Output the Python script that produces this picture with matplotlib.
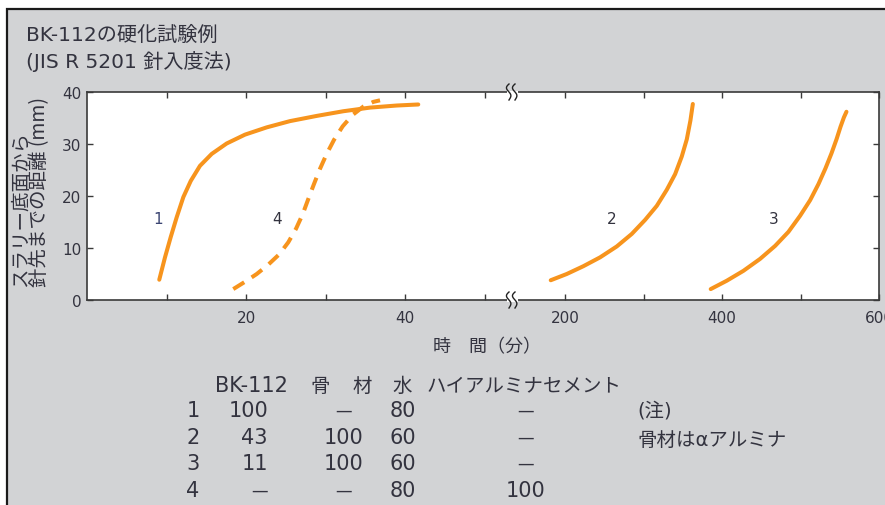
import numpy as np
import matplotlib
matplotlib.use("Agg")
import matplotlib.pyplot as plt
from matplotlib.patches import Rectangle
from matplotlib.lines import Line2D

plt.rcParams['font.family'] = ['DejaVu Sans', 'Noto Sans CJK JP']

# curve data: time (min) vs distance from slurry bottom to needle tip (mm)
c1_t = [9.09, 9.81, 10.53, 11.28, 12.12, 13.05, 14.21, 15.69, 17.57, 19.87, 22.61, 25.53,
        28.89, 32.24, 35.60, 38.95, 41.67]
c1_d = [3.9, 8.2, 12.1, 15.9, 19.8, 22.9, 25.8, 28.1, 30.1, 31.8, 33.2, 34.4,
        35.4, 36.3, 37.0, 37.4, 37.6]
c4_t = [18.40, 19.87, 21.35, 22.80, 24.19, 25.32, 26.29, 27.13, 27.83, 28.55, 29.30, 30.15,
        31.07, 32.16, 33.42, 34.76, 36.01, 36.86]
c4_d = [2.1, 3.5, 5.0, 6.8, 8.8, 11.1, 13.7, 16.5, 19.4, 22.3, 25.2, 28.1,
        30.8, 33.4, 35.6, 37.2, 38.1, 38.4]
c2_t = [181.4, 201.8, 223.0, 244.3, 265.6, 284.7, 301.7, 316.6, 329.4, 340.0, 348.5, 354.9, 359.5, 362.6]
c2_d = [3.8, 5.0, 6.5, 8.2, 10.3, 12.7, 15.4, 18.1, 21.2, 24.2, 27.6, 30.9, 34.5, 37.7]
c3_t = [385.4, 405.8, 427.0, 448.3, 467.5, 484.5, 499.4, 512.2, 522.8, 531.7, 539.4, 545.8,
        550.9, 555.2, 558.5]
c3_d = [2.1, 3.7, 5.6, 7.9, 10.4, 13.1, 16.2, 19.2, 22.3, 25.3, 28.2, 30.9, 33.3, 35.1, 36.2]
curve_labels = ["1", "4", "2", "3"]
label_t = [8.9, 23.9, 259.6, 466.2]
label_d = [15.6, 15.6, 15.6, 15.6]

# table
tbl_header = ["BK-112", "骨", "材", "水", "ハイアルミナセメント"]
tbl_no = ["1", "2", "3", "4"]
tbl_bk = ["100", "43", "11", "—"]
tbl_agg = ["—", "100", "100", "—"]
tbl_water = ["80", "60", "60", "80"]
tbl_hac = ["—", "—", "—", "100"]

W, H = 885, 506
ORANGE = '#f7941d'
TXT = '#33333f'
SPINE = '#3a3a3a'

fig = plt.figure(figsize=(W / 100, H / 100), dpi=100)
fig.patch.set_facecolor('white')


def fx(px):
    return px / W


def fy(py):
    return 1 - py / H


fig.patches.append(Rectangle((fx(7), fy(H + 20)), 1.2, fy(10) - fy(H + 20),
                             transform=fig.transFigure, facecolor='#d2d3d5',
                             edgecolor='#1a1a1a', linewidth=1.6, zorder=-10))

x0, xb, x1 = 87, 512, 879
ytop, ybot = 93, 301
ax1 = fig.add_axes([fx(x0), fy(ybot), fx(xb) - fx(x0), fy(ytop) - fy(ybot)])
ax2 = fig.add_axes([fx(xb), fy(ybot), fx(x1) - fx(xb), fy(ytop) - fy(ybot)], sharey=ax1)

ax1.set_xlim(0, (xb - x0) / 7.95)
ax2.set_xlim(132, 600)
ax1.set_ylim(0, 40)

for ax in (ax1, ax2):
    for s in ax.spines.values():
        s.set_color(SPINE)
        s.set_linewidth(1.2)
    ax.tick_params(which='both', direction='in', length=4.5, width=1.0, color=SPINE,
                   top=True, labelsize=11, labelcolor=TXT, pad=7)
ax1.spines['right'].set_visible(False)
ax2.spines['left'].set_visible(False)

ax1.set_xticks([20, 40])
ax1.set_xticks([10, 30, 50], minor=True)
ax1.set_yticks([0, 10, 20, 30, 40])
ax1.tick_params(axis='y', pad=4)
ax2.set_xticks([200, 400, 600])
ax2.set_xticks([300, 500], minor=True)
ax2.tick_params(axis='y', left=False, right=True, labelleft=False)

lw = 2.9
ax1.plot(c1_t, c1_d, color=ORANGE, lw=lw, solid_capstyle='round', solid_joinstyle='round')
ax1.plot(c4_t, c4_d, color=ORANGE, lw=lw, linestyle=(0, (3.2, 2.2)))
ax2.plot(c2_t, c2_d, color=ORANGE, lw=lw, solid_capstyle='round', solid_joinstyle='round')
ax2.plot(c3_t, c3_d, color=ORANGE, lw=lw, solid_capstyle='round', solid_joinstyle='round')

for i, lab in enumerate(curve_labels):
    ax = ax1 if i < 2 else ax2
    ax.text(label_t[i], label_d[i], lab, ha='center', va='center', fontsize=11,
            color='#3b4572' if i == 0 else TXT)

# axis break marks
t = np.linspace(-1, 1, 30)
for yy in (ytop, ybot):
    fig.add_artist(Line2D([fx(xb - 4), fx(xb + 4)], [fy(yy), fy(yy)], color='white', lw=2.2,
                          transform=fig.transFigure))
    for dx in (-3, 3):
        xs = xb + dx + 2.2 * np.sin(t * np.pi) * (1 - 0.3 * t)
        ys = yy + 8 * t
        fig.add_artist(Line2D([fx(v) for v in xs], [fy(v) for v in ys], color='#222222', lw=1.0,
                              transform=fig.transFigure))

# titles and labels
fig.text(fx(26), fy(35), "BK-112の硬化試験例", fontsize=14.5, color=TXT, ha='left', va='center')
fig.text(fx(26), fy(62), "(JIS R 5201 針入度法)", fontsize=14.5, color=TXT, ha='left', va='center')
fig.text(fx(30), fy(287), "スラリー底面から\n針先までの距離 (mm)", rotation=90, fontsize=14,
         color=TXT, ha='center', va='bottom', multialignment='left', linespacing=0.9,
         family='Noto Sans CJK JP')
fig.text(fx(487), fy(347), "時　間（分）", fontsize=13, color=TXT, ha='center', va='center')

# table
FS = 15


def cell(x, y, s, ha):
    fig.text(fx(x), fy(y), s, fontsize=12 if s == "—" else FS, color=TXT, ha=ha, va='center')


hx = [215, 320, 362, 402, 427]
hha = ['left', 'center', 'center', 'center', 'left']
for s, x, a in zip(tbl_header, hx, hha):
    fig.text(fx(x), fy(386), s, fontsize=FS if x < 300 else 14, color=TXT, ha=a, va='center')
row_y = [411, 438, 464, 491]
for i, yy in enumerate(row_y):
    cell(193, yy, tbl_no[i], 'center')
    cell(268, yy, tbl_bk[i], 'right')
    cell(344, yy, tbl_agg[i], 'center')
    cell(403, yy, tbl_water[i], 'center')
    cell(526, yy, tbl_hac[i], 'center')
fig.text(fx(637), fy(411), "(注)", fontsize=14, color=TXT, ha='left', va='center')
fig.text(fx(637), fy(440), "骨材はαアルミナ", fontsize=14, color=TXT, ha='left', va='center')

fig.savefig("out.png", dpi=100)
